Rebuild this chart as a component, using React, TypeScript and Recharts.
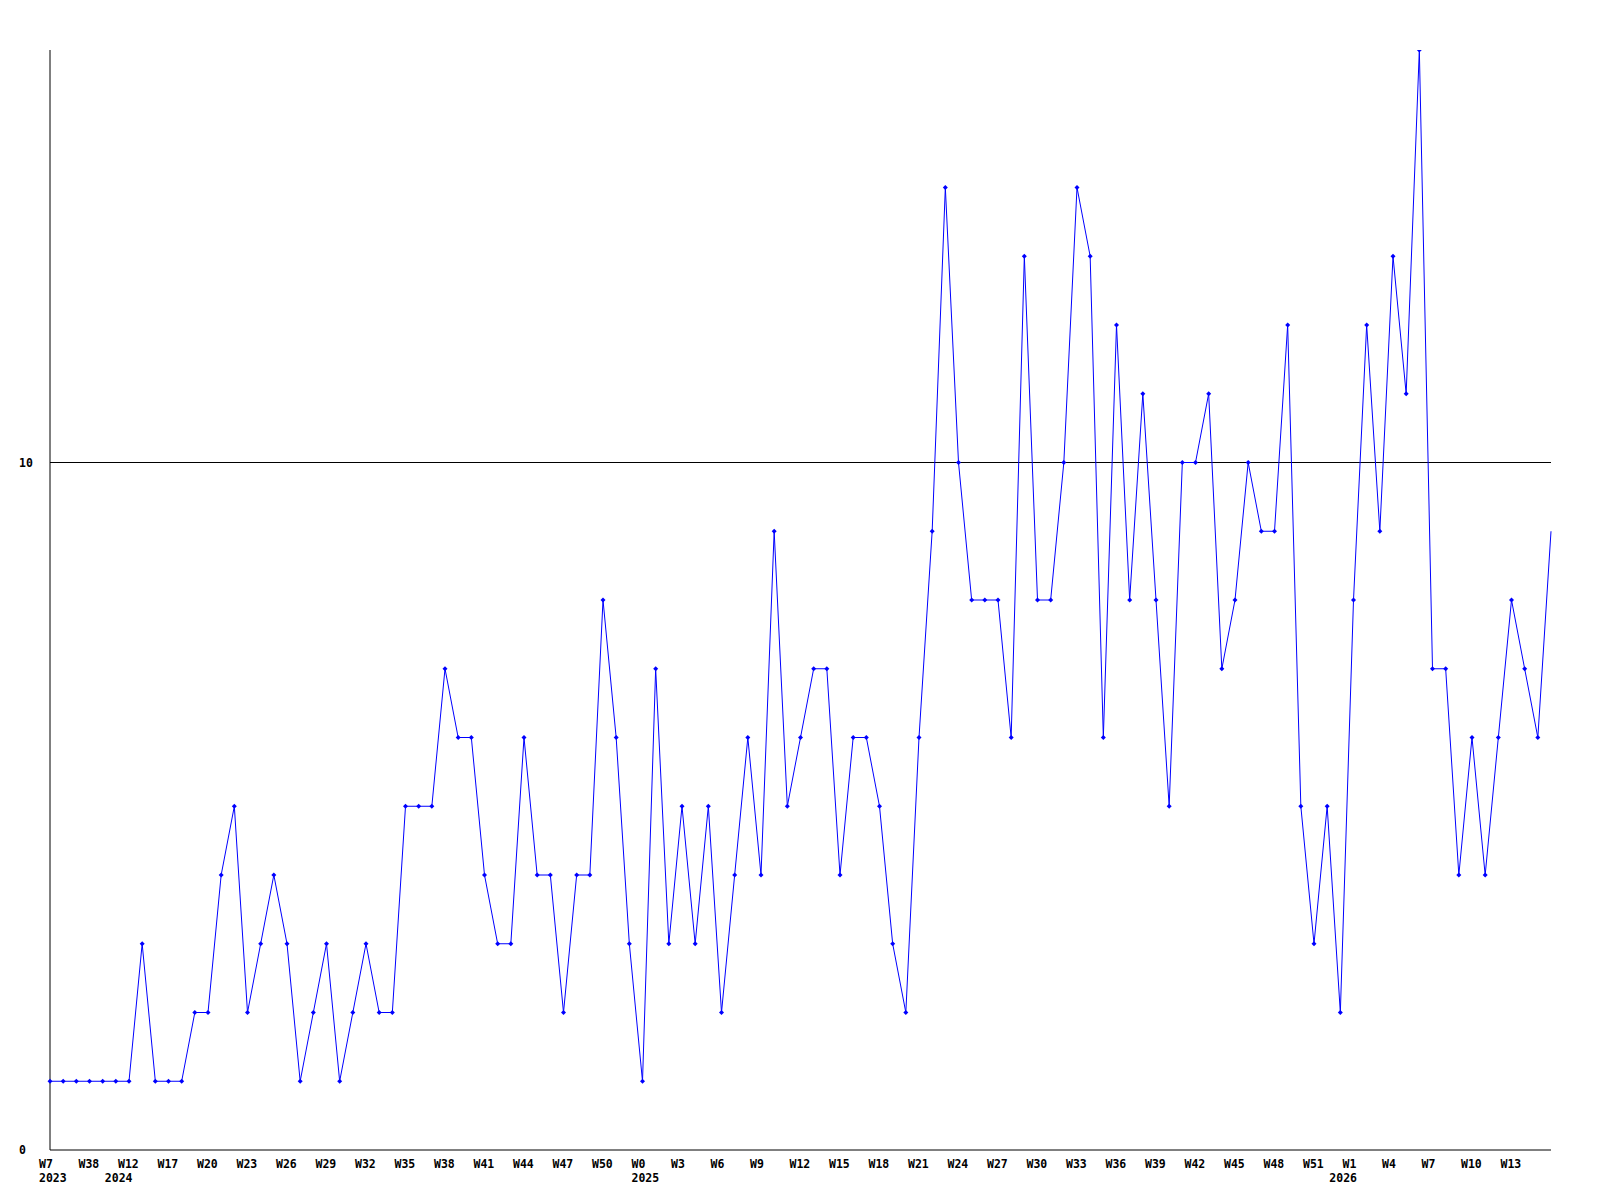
import { LineChart, Line, XAxis, YAxis, ReferenceLine } from "recharts";

// weekly counts, one per point
const values = [
  1, 1, 1, 1, 1, 1, 1, 3, 1, 1, 1, 2, 2, 4, 5, 2, 3, 4, 3, 1,
  2, 3, 1, 2, 3, 2, 2, 5, 5, 5, 7, 6, 6, 4, 3, 3, 6, 4, 4, 2,
  4, 4, 8, 6, 3, 1, 7, 3, 5, 3, 5, 2, 4, 6, 4, 9, 5, 6, 7, 7,
  4, 6, 6, 5, 3, 2, 6, 9, 14, 10, 8, 8, 8, 6, 13, 8, 8, 10, 14, 13,
  6, 12, 8, 11, 8, 5, 10, 10, 11, 7, 8, 10, 9, 9, 12, 5, 3, 5, 2, 8,
  12, 9, 13, 11, 16, 7, 7, 4, 6, 4, 6, 8, 7, 6, 9,
];

// labels shown every third point
const weekTicks = [
  "W7", "W38", "W12", "W17", "W20", "W23", "W26", "W29", "W32", "W35",
  "W38", "W41", "W44", "W47", "W50", "W0", "W3", "W6", "W9", "W12",
  "W15", "W18", "W21", "W24", "W27", "W30", "W33", "W36", "W39", "W42",
  "W45", "W48", "W51", "W1", "W4", "W7", "W10", "W13",
];

const yearLabels = ["2023", "2024", "2025", "2026"];
const yearStarts = [0, 5, 45, 98];

const yTicks = [0, 10];

const data = values.map((v, i) => ({ i, v }));

const weekIdx = weekTicks.map((_, k) => k * 3);
const allTicks = Array.from(new Set([...weekIdx, ...yearStarts])).sort((a, b) => a - b);

const FONT = {
  fontFamily: "'DejaVu Sans Mono', monospace",
  fontSize: 11.5,
  fontWeight: "bold" as const,
  fill: "#000",
};

function XTick(props: any) {
  const { x, y, payload } = props;
  const i = payload.value as number;
  const w = i % 3 === 0 ? weekTicks[i / 3] : undefined;
  const yi = yearStarts.indexOf(i);
  return (
    <g>
      {w && (
        <text x={x - 11} y={y + 14} textAnchor="start" dominantBaseline="central" {...FONT}>
          {w}
        </text>
      )}
      {yi >= 0 && (
        <text x={x - 11} y={y + 27.5} textAnchor="start" dominantBaseline="central" {...FONT}>
          {yearLabels[yi]}
        </text>
      )}
    </g>
  );
}

function YTick(props: any) {
  const { y, payload } = props;
  return (
    <text x={11} y={y} textAnchor="start" dominantBaseline="central" {...FONT}>
      {payload.value}
    </text>
  );
}

function Dot(props: any) {
  const { cx, cy, index } = props;
  if (index === values.length - 1) return <g key={index} />;
  return (
    <path
      key={index}
      d={`M${cx - 2.5},${cy} L${cx},${cy - 2.5} L${cx + 2.5},${cy} L${cx},${cy + 2.5} Z`}
      fill="#0000ff"
      stroke="none"
    />
  );
}

export default function App() {
  return (
    <div style={{ background: "#fff", width: 1592, height: 1192 }}>
      <LineChart width={1592} height={1192} data={data} margin={{ top: 42, right: 49, left: 0, bottom: 0 }}>
        <XAxis
          dataKey="i"
          type="number"
          domain={[0, values.length - 1]}
          ticks={allTicks}
          interval={0}
          tickLine={false}
          tickSize={0}
          tickMargin={0}
          height={50}
          axisLine={{ stroke: "#000", strokeWidth: 1 }}
          tick={<XTick />}
        />
        <YAxis
          domain={[0, 16]}
          ticks={yTicks}
          width={42}
          tickLine={false}
          tickSize={0}
          tickMargin={0}
          axisLine={{ stroke: "#000", strokeWidth: 1 }}
          tick={<YTick />}
          allowDataOverflow
        />
        <ReferenceLine y={10} stroke="#000" strokeWidth={1} />
        <Line
          type="linear"
          dataKey="v"
          stroke="#0000ff"
          strokeWidth={1}
          dot={<Dot />}
          activeDot={false}
          isAnimationActive={false}
        />
      </LineChart>
    </div>
  );
}
